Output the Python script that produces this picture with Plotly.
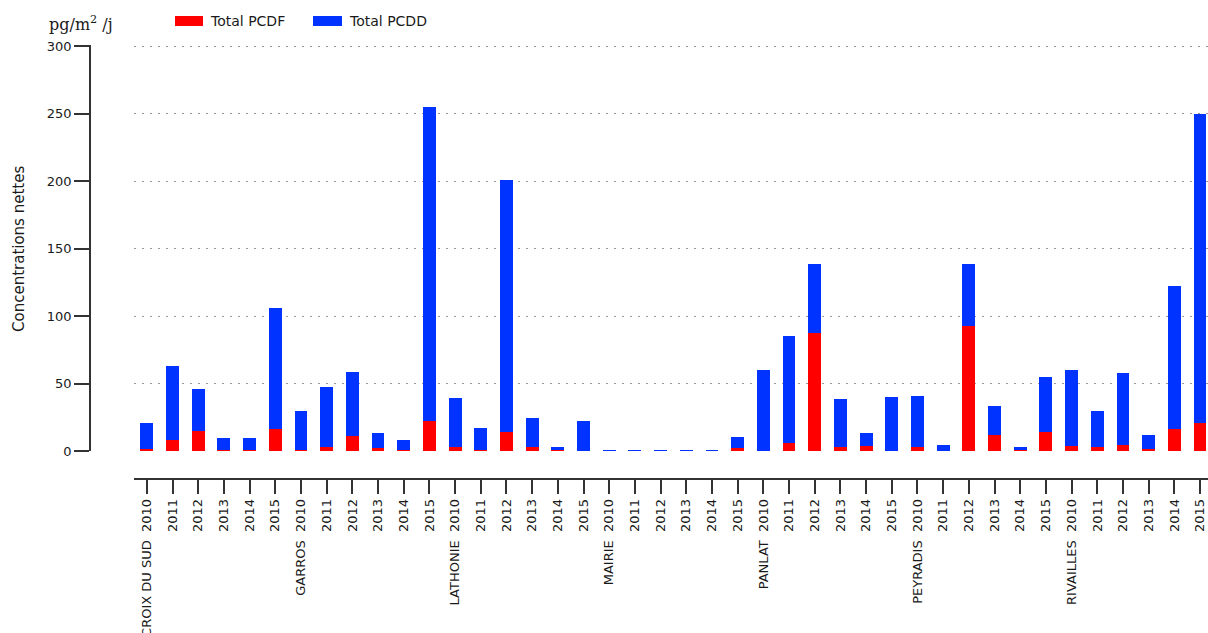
import plotly.graph_objects as go

# Sampling sites and years (six yearly values per site)
sites = ["CROIX DU SUD", "GARROS", "LATHONIE", "MAIRIE", "PANLAT", "PEYRADIS", "RIVAILLES"]
years = [2010, 2011, 2012, 2013, 2014, 2015]

# Net deposition, pg/m2/day, listed site by site, year by year
total_pcdf = [
    1.5, 8, 15, 0.5, 1, 16,          # CROIX DU SUD
    1, 3, 11, 2, 1, 22,              # GARROS
    3, 0.5, 14, 3, 0.5, 0,           # LATHONIE
    0.1, 0.1, 0.1, 0.1, 0.1, 2,      # MAIRIE
    0, 6, 87.5, 3, 3.5, 0,           # PANLAT
    3, 0, 92.5, 12, 1, 14,           # PEYRADIS
    4, 3, 4.5, 1.5, 16, 21,          # RIVAILLES
]
total_pcdd = [
    19.5, 55, 31, 9.1, 8.5, 90,
    29, 44.5, 47.5, 11.5, 7, 233,
    36, 16.5, 187, 21.5, 2.5, 22,
    0.2, 0.2, 0.2, 0.2, 0.2, 8.5,
    60, 79, 51, 35.5, 10, 40,
    37.5, 4.5, 46, 21, 2, 40.5,
    56, 26.5, 53.5, 10, 106, 229,
]
y_ticks = [0, 50, 100, 150, 200, 250, 300]

# Tick text: site name shown with the first year of each group
tick_text = []
for s in sites:
    for j, yr in enumerate(years):
        tick_text.append(f"{s}\u00a0\u00a0{yr}" if j == 0 else str(yr))
x_pos = list(range(len(tick_text)))

RED = "#ff0000"
BLUE = "#0033ff"
AXIS = "#333333"
TEXT = "#1a1a1a"
FONT = "DejaVu Sans"

fig = go.Figure()
fig.add_trace(go.Bar(x=x_pos, y=total_pcdf, name="Total PCDF",
                     marker=dict(color=RED, line=dict(width=0)), width=0.5))
fig.add_trace(go.Bar(x=x_pos, y=total_pcdd, name="Total PCDD",
                     marker=dict(color=BLUE, line=dict(width=0)), width=0.5))

W, H = 1208, 633
ML, MR, MT, MB = 90, 0, 45, 154
PW, PH = W - ML - MR, H - MT - MB


def px(x):
    return (x - ML) / PW


def py(y):
    return (H - MB - y) / PH


fig.update_layout(
    width=W, height=H,
    margin=dict(l=ML, r=MR, t=MT, b=MB, pad=0),
    barmode="stack",
    showlegend=False,
    plot_bgcolor="white",
    paper_bgcolor="white",
    font=dict(family=FONT, size=13, color=TEXT),
    xaxis=dict(
        domain=[px(134), 1],
        range=[-0.5, 41.31],
        anchor="free", position=0,
        tickmode="array", tickvals=x_pos, ticktext=tick_text,
        tickangle=-90,
        ticks="outside", ticklen=14, tickwidth=1.5, tickcolor=AXIS,
        showline=True, linecolor=AXIS, linewidth=1.5,
        showgrid=False, zeroline=False,
        automargin=False,
        tickfont=dict(family=FONT, size=13, color=TEXT),
    ),
    yaxis=dict(
        domain=[py(451), 1],
        range=[0, 300.75],
        anchor="free", position=0,
        tickmode="array", tickvals=y_ticks,
        ticks="outside", ticklen=15, tickwidth=1.5, tickcolor=AXIS,
        showline=True, linecolor=AXIS, linewidth=1.5,
        showgrid=True, gridcolor="#999999", gridwidth=1, griddash="2px,6px",
        zeroline=False,
        automargin=False,
        tickfont=dict(family=FONT, size=13, color=TEXT),
    ),
)

# Axis title and unit
fig.add_annotation(text="Concentrations nettes", xref="paper", yref="paper",
                   x=px(19), y=py(249), xanchor="center", yanchor="middle",
                   textangle=-90, showarrow=False,
                   font=dict(family=FONT, size=15, color=TEXT))
fig.add_annotation(text="pg/m<sup>2</sup> /j", xref="paper", yref="paper",
                   x=px(81), y=py(23), xanchor="center", yanchor="middle",
                   showarrow=False,
                   font=dict(family="DejaVu Serif", size=16, color=TEXT))

# Legend drawn as swatches with labels
legend_items = [("Total PCDF", RED, 175, 203, 208), ("Total PCDD", BLUE, 313, 342, 347)]
for label, color, x0, x1, tx in legend_items:
    fig.add_shape(type="rect", xref="paper", yref="paper",
                  x0=px(x0), x1=px(x1), y0=py(26), y1=py(16),
                  fillcolor=color, line=dict(width=0))
    fig.add_annotation(text=label, xref="paper", yref="paper",
                       x=px(tx), y=py(21), xanchor="left", yanchor="middle",
                       showarrow=False,
                       font=dict(family=FONT, size=14, color=TEXT))

fig.write_html("out.html")
